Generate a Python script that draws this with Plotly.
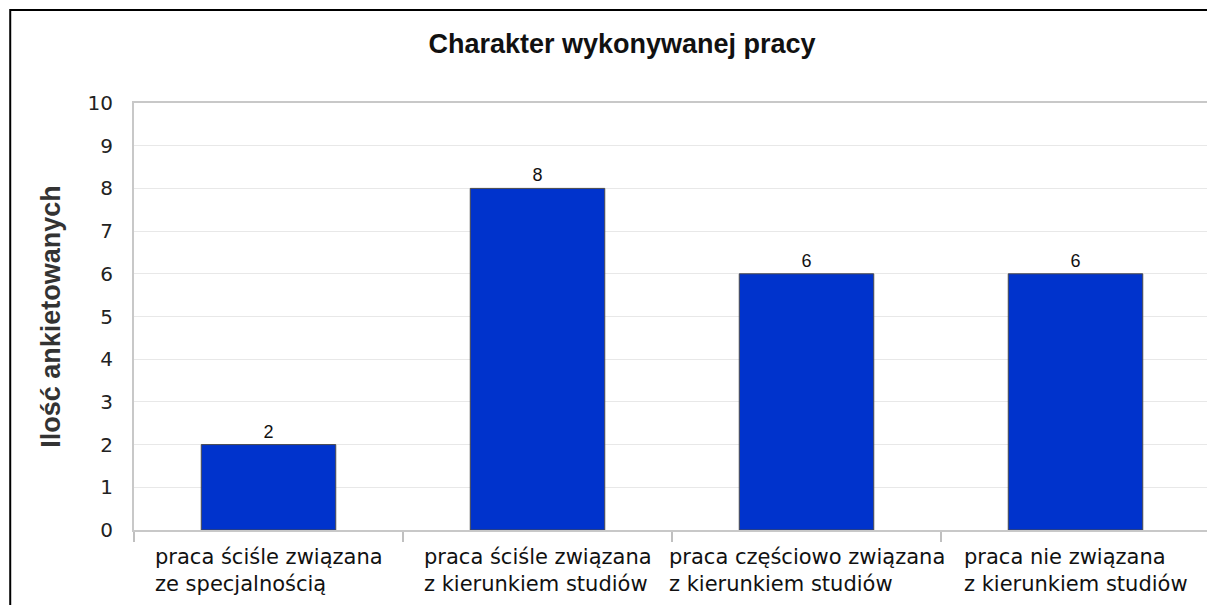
import plotly.graph_objects as go

categories = [
    "praca ściśle związana<br>ze specjalnością",
    "praca ściśle związana<br>z kierunkiem studiów",
    "praca częściowo związana<br>z kierunkiem studiów",
    "praca nie związana<br>z kierunkiem studiów",
]
values = [2, 8, 6, 6]
y_ticks = list(range(0, 11))

# page body has an 8px margin; figure coordinates below are page pixels minus 8
OFF = 8
W, H = 1215 - OFF, 605 - OFF
L, R, T, B = 134 - OFF, 3, 103 - OFF, 605 - 530
pw, ph = W - L - R, H - T - B

def px_x(x):
    return (x - OFF - L) / pw

def px_y(y):
    return (H - B - (y - OFF)) / ph

fig = go.Figure()
fig.add_trace(go.Bar(
    x=categories, y=values, width=0.5,
    marker=dict(color="#0033cc", line=dict(color="#4a4a4a", width=1)),
    text=[str(v) for v in values], textposition="outside",
    textfont=dict(family="Liberation Sans", size=18, color="#111111"),
    cliponaxis=False, hoverinfo="skip",
))

for c in categories:
    fig.add_annotation(
        x=c, xref="x", y=px_y(543), yref="paper", yanchor="top", xanchor="center",
        text=c, align="left", showarrow=False,
        font=dict(family="DejaVu Sans", size=21, color="#111111"),
    )

fig.add_shape(type="rect", xref="paper", yref="paper",
              x0=px_x(10), x1=px_x(1300), y0=px_y(700), y1=px_y(10),
              line=dict(color="#000000", width=2), layer="above")

fig.update_layout(
    width=W, height=H,
    margin=dict(l=L, r=R, t=T, b=B, pad=0),
    paper_bgcolor="white", plot_bgcolor="white",
    showlegend=False,
    bargap=0.5,
    title=dict(text="<b>Charakter wykonywanej pracy</b>", x=(622 - OFF) / W, xanchor="center",
               y=1 - (44 - OFF) / H, yanchor="middle",
               font=dict(family="Liberation Sans", size=27, color="#111111")),
    xaxis=dict(
        type="category", showticklabels=False, ticks="outside", tickson="boundaries",
        ticklen=10, tickcolor="#c0c0c0", tickwidth=2,
        showline=True, linecolor="#c8c8c8", linewidth=2, mirror=True,
        showgrid=False, range=[-0.5, 3.5],
    ),
    yaxis=dict(
        range=[0, 10], tickvals=y_ticks, ticktext=[str(t) for t in y_ticks],
        showgrid=True, gridcolor="#e8e8e8", gridwidth=1,
        showline=True, linecolor="#c8c8c8", linewidth=2, mirror=True,
        ticks="", ticklabelstandoff=15,
        tickfont=dict(family="DejaVu Sans", size=20, color="#222222"),
        zeroline=False,
        title=dict(text="<b>Ilość ankietowanych</b>", standoff=19,
                   font=dict(family="Liberation Sans", size=27, color="#333333")),
    ),
)

fig.write_html("out.html")
